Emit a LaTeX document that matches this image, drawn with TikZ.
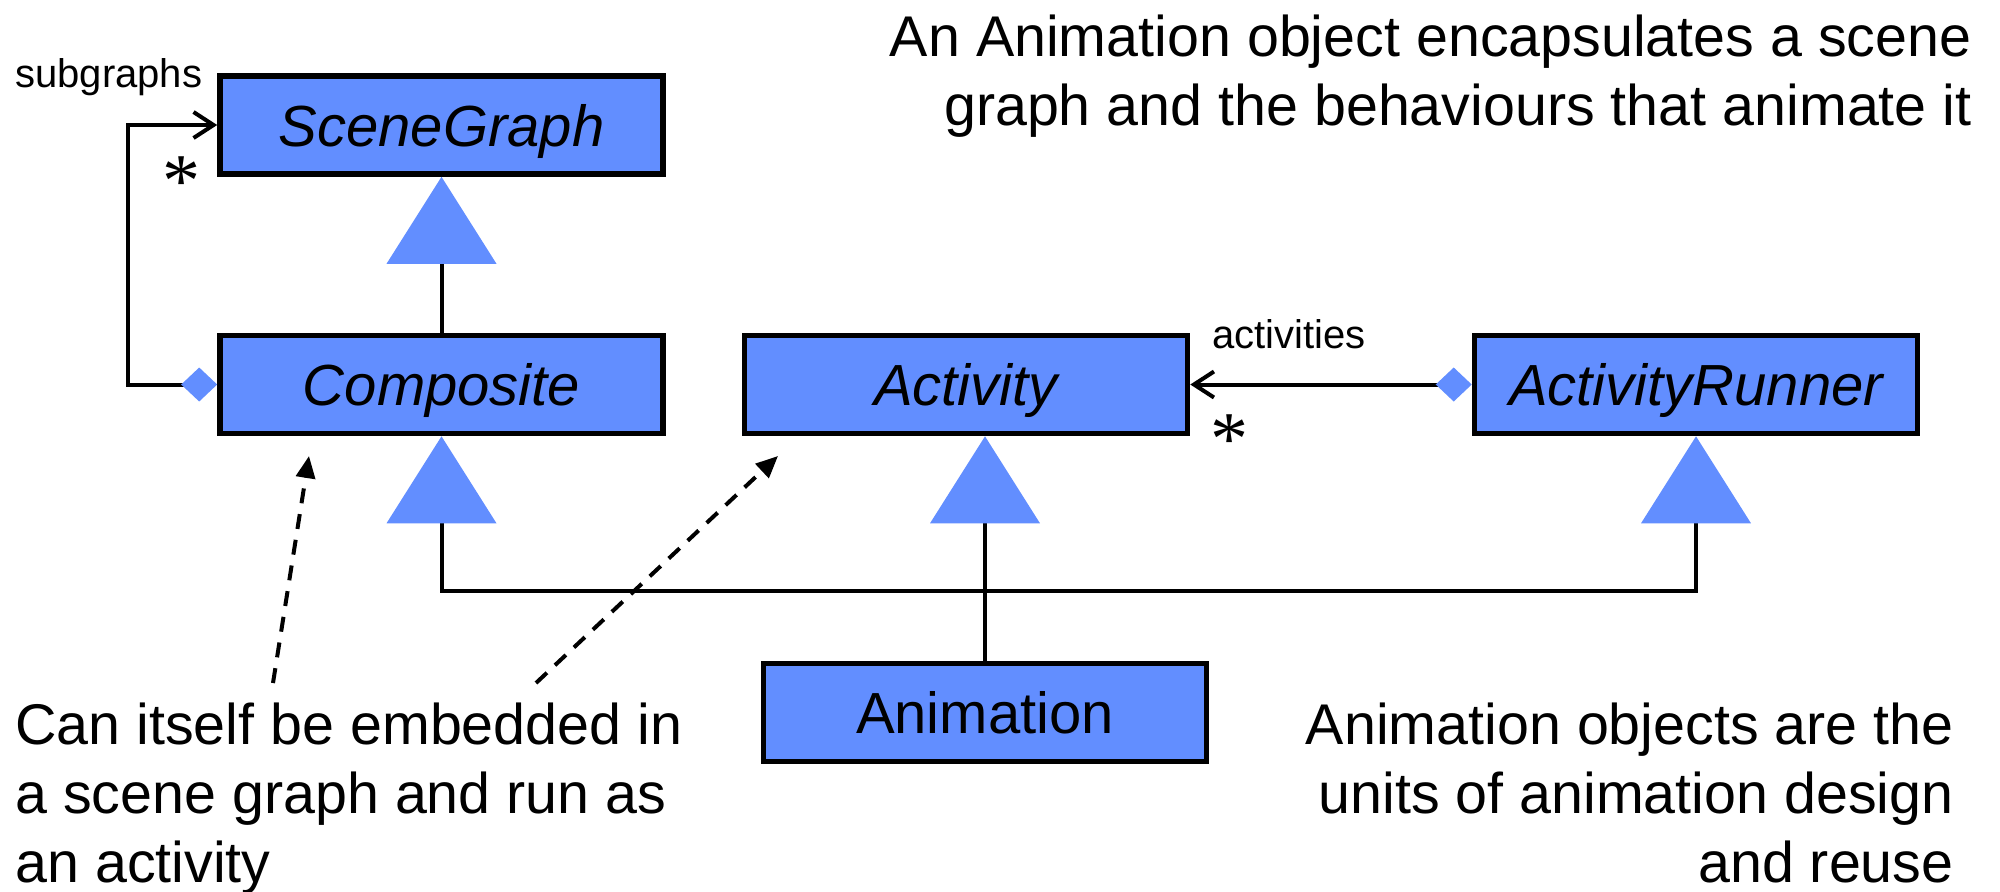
\documentclass[tikz,border=0pt]{standalone}
\usepackage{fontspec}
\setmainfont{Liberation Sans}
\newfontfamily\starfont{Liberation Serif}
\usetikzlibrary{arrows.meta,positioning}
\definecolor{umlblue}{RGB}{98,142,255}
\tikzset{
	Gen/.tip = {Triangle[length=43.5pt,width=55pt,color=umlblue,line width=0pt]},
	classbox/.style = {rectangle, draw=black, fill=umlblue, line width=2.8pt,
		minimum width=221.5pt, minimum height=49pt, inner sep=0pt, text depth=0pt,
		font=\fontsize{29}{34}\selectfont\itshape},% abstract class
	concrete/.style = {classbox, font=\fontsize{29}{34}\selectfont},% concrete class
	note/.style = {inner sep=0pt, font=\fontsize{28.7}{34.5}\selectfont},
	role/.style = {inner sep=0pt, font=\fontsize{20}{24}\selectfont},
	mult/.style = {inner sep=0pt, font=\starfont\fontsize{38}{38}\selectfont},
	gen/.style = {line width=2pt, -Gen},% generalisation
	agg/.style = {line width=2pt,
		{Diamond[length=18pt,width=17pt,color=umlblue,line width=0pt]}-{Straight Barb[length=10pt,width=13pt]}},% aggregation
	comment/.style = {line width=2pt, dash pattern=on 7.5pt off 5.5pt,
		-{Triangle[length=11pt,width=9.5pt]}}
}

\begin{document}
\begin{tikzpicture}[x=0.5pt,y=-0.5pt]
\useasboundingbox (0,0) rectangle (2000,891);
% classes
\node [classbox] (scene) at (441.5,125) {SceneGraph};
\node [classbox] (composite) at (441.5,384.5) {Composite};
\node [classbox] (activity) at (966,384.5) {Activity};
\node [classbox] (runner) at (1696,384.5) {ActivityRunner};
\node [concrete] (animation) at (985,712.5) {Animation};
% inheritance
\coordinate (bus) at (0,591);
\coordinate (loop) at (128,0);
\draw [gen] (composite.north) -- (scene.south);
\draw [gen, Gen-Gen] (composite.south) -- (composite.south |- bus) -- (runner.south |- bus) -- (runner.south);
\draw [gen] (animation.north) -- (animation.north |- activity.south);
% aggregations
\draw [agg] (composite.west) -| (loop |- scene.west) -- (scene.west);
\draw [agg] (runner.west) -- (activity.east);
\node [role, anchor=west] (subgraphs) at (15,77) {subgraphs};
\node [role, anchor=west] (activities) at (1212,334) {activities};
\node [mult] (subsmult) at (181,182) {*};
\node [mult] (actsmult) at (1229,440) {*};
% notes
\node [note, anchor=north east, align=right] (purpose) at (1972,14)
	{An Animation object encapsulates a scene\\graph and the behaviours that animate it};
\node [note, anchor=north west, align=left] (embed) at (15,702)
	{Can itself be embedded in\\a scene graph and run as\\an activity};
\node [note, anchor=north east, align=right] (units) at (1954,702)
	{Animation objects are the\\units of animation design\\and reuse};
\coordinate (tailA) at (273,683);
\coordinate (headA) at (309,456);
\coordinate (tailB) at (536,683);
\coordinate (headB) at (778,456);
\draw [comment] (tailA) -- (headA);
\draw [comment] (tailB) -- (headB);
\end{tikzpicture}
\end{document}
